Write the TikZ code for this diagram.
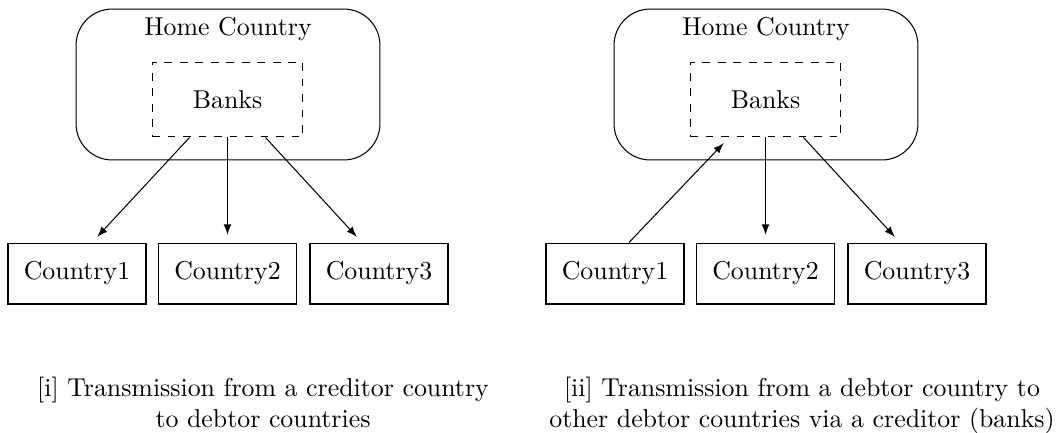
\documentclass[tikz,border=0pt]{standalone}
\usetikzlibrary{calc}
\begin{document}
\begin{tikzpicture}[x=0.387pt,y=-0.387pt,>=latex,
    homebox/.style={draw,rounded corners=14pt,minimum width=117.6pt,minimum height=58.4pt},
    bankbox/.style={draw,dashed,minimum width=58.4pt,minimum height=29pt},
    countrybox/.style={draw,minimum width=53.4pt,minimum height=23.6pt},
    captiontext/.style={align=center,inner sep=0pt,anchor=north}]
  \useasboundingbox (0,0) rectangle (1063,432);
  % [i] creditor to debtors
  \draw
    (228,84.5) node[homebox] (homeL) {}
    (228,35) node[anchor=base] (homeLtext) {Home Country}
    (227.5,99.5) node[bankbox] (banksL) {Banks}
    (77,273.5) node[countrybox] (c1L) {Country1}
    (227.5,273.5) node[countrybox] (c2L) {Country2}
    (379,273.5) node[countrybox] (c3L) {Country3}
    (263,376.6) node[captiontext] (capL) {[i] Transmission from a creditor country\\to debtor countries};
  % [ii] debtor to debtors via banks
  \draw
    (766,84.5) node[homebox] (homeR) {}
    (766,35) node[anchor=base] (homeRtext) {Home Country}
    (765.5,99.5) node[bankbox] (banksR) {Banks}
    (615,273.5) node[countrybox] (c1R) {Country1}
    (765.5,273.5) node[countrybox] (c2R) {Country2}
    (917,273.5) node[countrybox] (c3R) {Country3}
    (802,376.6) node[captiontext] (capR) {[ii] Transmission from a debtor country to\\other debtor countries via a creditor (banks)};
  \begin{scope}[->,shorten >=3pt]
    \draw ($(banksL.south west)!0.25!(banksL.south east)$) to ($(c1L.north)+(15,0)$);
    \draw (banksL.south) to (c2L.north);
    \draw ($(banksL.south west)!0.75!(banksL.south east)$) to ($(c3L.north)+(-17,0)$);
    \draw ($(c1R.north)+(14,0)$) to ($(banksR.south west)!0.26!(banksR.south east)$);
    \draw (banksR.south) to (c2R.north);
    \draw ($(banksR.south west)!0.75!(banksR.south east)$) to ($(c3R.north)+(-17,0)$);
  \end{scope}
\end{tikzpicture}
\end{document}
